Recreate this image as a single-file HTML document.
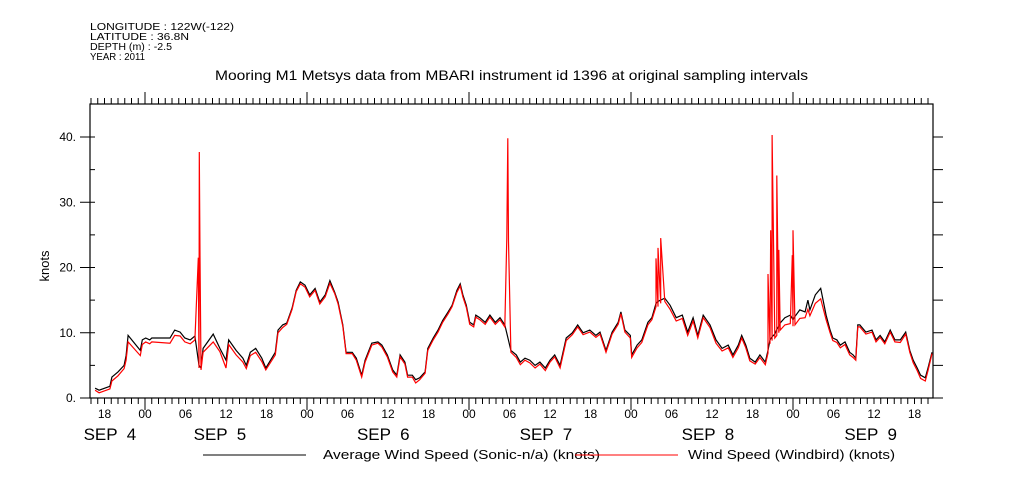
<!DOCTYPE html>
<html><head><meta charset="utf-8">
<style>
body{margin:0;background:#fff;}
svg{display:block;font-family:"Liberation Sans",sans-serif;}
</style></head>
<body>
<svg id="chart" width="1009" height="504" viewBox="0 0 1009 504">
  <g font-size="10" fill="#000">
    <text x="90" y="30" textLength="144" lengthAdjust="spacingAndGlyphs">LONGITUDE : 122W(-122)</text>
    <text x="90" y="40" textLength="99" lengthAdjust="spacingAndGlyphs">LATITUDE : 36.8N</text>
    <text x="90" y="50" textLength="82" lengthAdjust="spacingAndGlyphs">DEPTH (m) : -2.5</text>
    <text x="90" y="60" textLength="55" lengthAdjust="spacingAndGlyphs">YEAR : 2011</text>
  </g>
  <text x="215" y="80" font-size="14" textLength="593" lengthAdjust="spacingAndGlyphs">Mooring M1 Metsys data from MBARI instrument id 1396 at original sampling intervals</text>
  <text transform="translate(49,266) rotate(-90)" text-anchor="middle" font-size="13">knots</text>
  <g id="axes"></g>
  <g id="series"></g>
  <g font-size="13">
    <line x1="203" y1="455" x2="306" y2="455" stroke="#000" stroke-width="1"/>
    <text x="323" y="459" textLength="277" lengthAdjust="spacingAndGlyphs">Average Wind Speed (Sonic-n/a) (knots)</text>
    <line x1="575" y1="455" x2="678" y2="455" stroke="#f00" stroke-width="1"/>
    <text x="688" y="459" textLength="207" lengthAdjust="spacingAndGlyphs">Wind Speed (Windbird) (knots)</text>
  </g>
</svg>
<script>
// hours since SEP 4 00:00
const times = [16.6,17.2,18.8,19.1,20,20.9,21.2,21.5,23.3,23.6,24.1,24.7,25,27.7,28.4,29.2,29.9,30.7,31.4,32,32.3,32.6,34.1,35.1,36,36.4,37.5,38.5,39,39.6,40.4,41.3,41.9,43.3,43.7,44.4,45,45.8,46.4,47,47.7,48.4,49.2,49.9,50.7,51.4,52.1,52.6,53.3,53.8,54.7,55.3,56.1,56.6,57.6,58.5,59.1,59.9,60.7,61.3,61.8,62.5,62.9,63.6,64.1,64.7,65.5,65.9,66.7,67.4,68.1,68.9,69.5,70.2,70.7,71.1,71.6,72.1,72.7,73,73.6,74.4,75.1,75.9,76.6,77.3,78.2,79,79.6,80.3,81,81.8,82.5,83.3,84,84.7,85.5,86.4,87.3,88.1,88.9,89.9,90.8,91.4,92.3,93.2,94.1,94.5,95.1,95.9,96.1,96.9,97.6,98.5,99.1,99.7,100,100.4,101,101.8,102.7,103.6,104.4,105.2,105.9,106.7,107.7,108.6,109.5,110.4,111.1,111.9,112.4,113,113.6,114.4,115.1,115.9,116.3,116.6,116.9,117.3,117.6,117.9,118.1,118.8,119.6,120,120.3,121,121.8,122.2,122.5,123.3,124.1,124.4,124.9,125.5,125.9,126.5,127,127.7,128.4,128.9,129.3,129.6,129.9,130.8,131.7,132.3,132.9,133.6,134.4,135.1,135.9,136.7,137.3,137.8,138.4,138.9,139.6,140,140.6];
const avgSpeed = [1.5,1.2,1.8,3.2,4,5,6.5,9.6,7.3,8.9,9.2,8.9,9.2,9.2,10.4,10.1,9.2,8.9,9.5,5,4.6,7.6,9.8,7.6,5.8,8.9,7.3,6.1,5,7,7.6,6.1,4.6,7,10.4,11.2,11.5,13.8,16.5,17.8,17.3,15.8,16.8,14.7,15.8,18,16.2,14.7,11.2,7,7,6.1,3.5,5.8,8.4,8.6,8.1,6.6,4.3,3.5,6.6,5.5,3.5,3.5,2.8,3.1,4,7.6,9.2,10.4,11.9,13.2,14.2,16.5,17.5,15.8,14.2,11.6,11.2,12.7,12.3,11.6,12.7,11.6,12.3,11.2,7.3,6.6,5.5,6.1,5.8,5,5.5,4.6,5.8,6.6,5,9.2,10,11.2,10,10.4,9.6,10.1,7.3,10.1,11.6,13.2,10.4,9.6,6.6,8.1,8.9,11.6,12.3,14.5,14.8,15,15.3,14.2,12.3,12.7,10.1,12.3,9.6,12.7,11.2,8.9,7.6,8.1,6.6,8.1,9.6,8.1,6.1,5.5,6.6,5.5,7.3,8.9,9.4,9.8,10.5,11,11.5,12.3,12.7,12,12.5,13.5,13.2,15,13.5,15.8,16.8,15.3,12.7,10.4,9.2,8.9,8.1,8.6,7,6.6,6.1,11.2,11.2,10.1,10.4,8.9,9.6,8.6,10.4,8.9,8.9,10.1,7.3,5.8,4.6,3.5,3.1,4.6,7];
const windbirdSpeed = [1.2,0.8,1.4,2.6,3.4,4.5,5.8,8.6,6.5,8.2,8.6,8.3,8.6,8.4,9.6,9.5,8.6,8.3,8.9,4.6,4.3,7,8.6,7.1,4.6,8.2,6.6,5.5,4.5,6.5,7,5.6,4.3,6.6,10,10.8,11.3,13.6,16.3,17.5,17,15.5,16.5,14.4,15.5,17.6,16,14.4,11,6.8,6.8,5.8,3.2,5.5,8.1,8.4,7.8,6.3,4,3.2,6.3,5.2,3.2,3.2,2.3,2.8,3.8,7.3,8.9,10.1,11.6,12.9,14,16.2,17.2,15.5,13.9,11.3,10.9,12.4,12,11.3,12.4,11.3,12,10.9,7,6.2,5.1,5.8,5.4,4.6,5.2,4.2,5.5,6.3,4.6,8.8,9.7,10.9,9.7,10.1,9.3,9.8,7,9.8,11.3,12.9,10.1,9.2,6.2,7.7,8.5,11.2,12,14,14,14.5,14.8,13.6,11.8,12.2,9.6,11.8,9.2,12.3,10.8,8.4,7.2,7.7,6.2,7.7,9.2,7.7,5.7,5.2,6.2,5.1,6.9,8.3,8.8,9.2,9.6,10,10.4,11.2,11.4,11,11.2,12.2,12.3,13.6,12.6,14.5,15.2,14,12,10,8.8,8.5,7.7,8.2,6.6,6.2,5.8,10.9,10.9,9.8,10.1,8.6,9.3,8.3,10.1,8.6,8.5,9.8,7,5.4,4.2,3,2.6,4.2,6.8];
// narrow windbird spikes (hours, knots)
const spikeTimes = [31.9,32.05,32.15,77.6,77.75,77.85,99.7,100,100.4,116.3,116.7,116.9,117.6,117.9,119.9,120];
const spikeValues = [21.5,37.7,21.8,24.5,39.8,24,21.4,23,24.5,19,25.7,40.3,34.1,22.7,21.9,25.7];
const yTicks = [0,10,20,30,40];
const yTickLabels = ["0.","10.","20.","30.","40."];
const hourTickLabels = ["18","00","06","12","18","00","06","12","18","00","06","12","18","00","06","12","18","00","06","12","18"];
const hourTickTimes = [18,24,30,36,42,48,54,60,66,72,78,84,90,96,102,108,114,120,126,132,138];
const dayLabels = ["SEP  4","SEP  5","SEP  6","SEP  7","SEP  8","SEP  9"];
const dayLabelTimes = [18.8,35.1,59.3,83.4,107.4,131.5];

const L=90,R=933,T=104,B=398;
const x = t => -17 + t*6.75;
const y = v => B - v*6.525;
const NS="http://www.w3.org/2000/svg";
const axes=document.getElementById('axes'), series=document.getElementById('series');
function mk(tag,attrs,parent){const e=document.createElementNS(NS,tag);for(const k in attrs)e.setAttribute(k,attrs[k]);parent.appendChild(e);return e;}

const frame=mk('rect',{x:L,y:T,width:R-L,height:B-T,fill:'none',stroke:'#000','stroke-width':1.2},axes);



for(let v=0;v<=40;v+=5){
  const yy=y(v);
  const t1=mk('line',{x1:L,y1:yy,x2:L+5,y2:yy,stroke:'#000'},axes);
  
  
  const t2=mk('line',{x1:R,y1:yy,x2:R+10,y2:yy,stroke:'#000'},axes);
  
  
}
yTicks.forEach((v,i)=>{
  const yy=y(v);
  const t=mk('line',{x1:L-10,y1:yy,x2:L,y2:yy,stroke:'#000'},axes);
  
  
  const lb=mk('text',{x:L-14,y:yy+4,'text-anchor':'end','font-size':12},axes);
  lb.textContent=yTickLabels[i];
  
  
});
for(let h=16;h<=140;h++){
  const xx=x(h); if(xx<L||xx>R) continue;
  const major=(h%24===0);
  const b=mk('line',{x1:xx,y1:B,x2:xx,y2:B+(major?12:6),stroke:'#000'},axes);
  
  
  const t=mk('line',{x1:xx,y1:T,x2:xx,y2:T-(major?12:6),stroke:'#000'},axes);
  
  
}
hourTickTimes.forEach((h,i)=>{
  const lb=mk('text',{x:x(h),y:418,'text-anchor':'middle','font-size':12},axes);
  lb.textContent=hourTickLabels[i];
  
  
});
dayLabels.forEach((d,i)=>{
  const lb=mk('text',{x:x(dayLabelTimes[i]),y:440,'text-anchor':'middle','font-size':17},axes);
  lb.textContent=d; lb.style.whiteSpace='pre';
  
  
});

const redPts=times.map((t,i)=>[t,windbirdSpeed[i]]).concat(spikeTimes.map((t,i)=>[t,spikeValues[i]])).sort((a,b)=>a[0]-b[0]);
const blackPts=times.map((t,i)=>[t,avgSpeed[i]]);
const pts=a=>a.map(p=>x(p[0]).toFixed(1)+','+y(p[1]).toFixed(1)).join(' ');
const bl=mk('polyline',{points:pts(blackPts),fill:'none',stroke:'#000','stroke-width':1.2},series);


const rl=mk('polyline',{points:pts(redPts),fill:'none',stroke:'#f00','stroke-width':1.2},series);


</script>
</body></html>
